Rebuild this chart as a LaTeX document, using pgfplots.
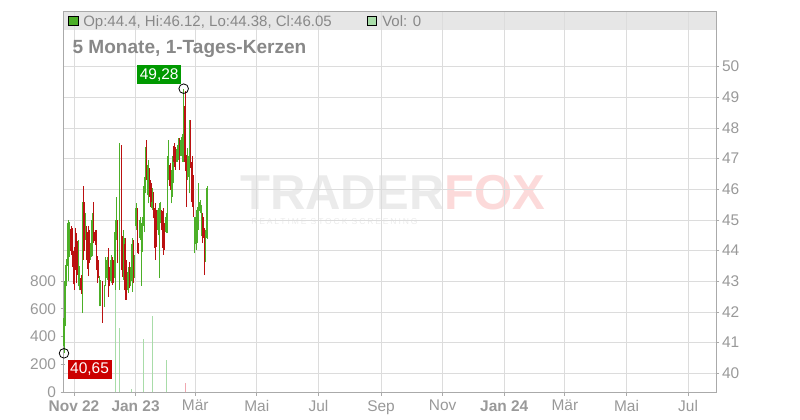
\documentclass[border=0pt]{standalone}
\usepackage{fontspec}
\setmainfont{Liberation Sans}
\usepackage{pgfplots}
\usepackage{pgfplotstable}
\pgfplotsset{compat=1.18}

\definecolor{cg}{HTML}{4CAF28}
\definecolor{cr}{HTML}{BB1111}
\definecolor{vg}{HTML}{A8DCA8}
\definecolor{vr}{HTML}{F0A8B0}
\definecolor{gridc}{HTML}{DCDCDC}
\definecolor{axc}{HTML}{AAAAAA}
\definecolor{tickc}{HTML}{999999}
\definecolor{hdrbg}{HTML}{E6E6E6}
\definecolor{hdrtx}{HTML}{888888}
\definecolor{boxg}{HTML}{009900}
\definecolor{boxr}{HTML}{CC0000}
\definecolor{wmg}{HTML}{EBEBEB}
\definecolor{wmp}{HTML}{FCDADA}

\newcommand{\fs}[1]{\fontsize{#1}{#1}\selectfont}

% day 0 = 1 Nov 2022; d o h l c
\pgfplotstableread{
d o h l c
-9.9 40.9 42.1 40.65 41.8
-8.9 42.1 43.54 41.53 43.0
-7.5 42.9 43.73 42.83 43.6
-5.9 43.5 45.0 43.0 44.9
-4.5 44.0 44.92 43.8 44.8
4.2 43.2 44.35 42.83 44.1
5.5 42.9 43.5 42.7 43.4
8.3 42.7 45.6 41.96 45.3
11.1 44.5 45.22 44.35 45.1
16.6 43.8 44.24 43.7 44.1
18.0 44.0 45.22 43.81 45.0
25.0 42.4 43.16 42.18 43.0
26.3 42.4 43.05 42.2 42.9
30.0 42.2 42.88 42.17 42.8
31.4 42.9 43.8 42.83 43.6
32.7 43.1 43.8 43.04 43.7
36.6 43.0 43.86 42.94 43.7
40.6 43.1 45.0 42.72 44.6
41.9 44.6 45.76 44.35 45.6
44.9 43.8 47.5 42.72 46.9
49.4 43.5 44.67 43.05 44.4
53.4 42.7 43.48 42.61 43.3
56.0 43.0 43.48 42.83 43.4
57.4 43.0 44.4 42.66 44.2
60.0 43.2 43.86 43.1 43.7
61.3 44.8 45.54 44.67 45.4
65.3 44.4 45.1 44.35 45.0
66.6 43.9 44.9 42.85 44.8
68.0 44.1 45.1 43.97 44.9
69.3 44.8 46.4 44.6 46.1
70.7 46.0 47.39 45.87 47.2
73.4 45.8 46.96 45.54 46.8
77.4 45.4 46.03 45.33 45.9
82.9 44.7 45.33 44.67 45.2
84.2 44.5 45.54 43.1 45.4
85.6 45.0 45.6 44.89 45.5
91.0 44.6 45.22 44.57 45.1
92.4 45.1 47.07 44.57 46.8
93.7 46.6 47.61 46.3 47.3
96.4 46.0 46.63 45.54 46.5
97.8 46.2 47.07 45.76 47.0
101.9 46.9 47.44 46.9 47.3
103.2 47.0 47.66 46.96 47.5
105.9 47.1 47.72 47.07 47.6
107.3 47.3 47.8 46.9 47.7
108.6 47.1 49.28 46.9 48.8
112.7 46.4 47.34 46.3 47.1
114.1 46.2 48.26 45.87 47.9
119.5 44.1 45.11 43.91 44.9
120.8 44.2 45.33 44.02 45.1
122.2 44.4 45.43 44.24 45.2
123.5 44.8 46.2 44.67 46.0
124.9 45.3 45.65 45.22 45.6
126.3 44.6 45.49 44.46 45.3
130.3 43.8 44.67 43.64 44.4
131.7 44.4 46.12 44.38 46.05
}\upcandles

\pgfplotstableread{
d o h l c
-3.0 44.7 44.8 43.86 44.0
-1.5 44.5 44.73 43.48 43.7
0.0 44.0 44.13 42.72 42.9
1.4 44.5 44.73 43.37 43.5
2.8 44.3 44.57 42.94 43.2
6.9 43.1 43.2 42.6 42.7
9.7 45.6 46.11 43.7 44.0
12.5 44.7 44.8 43.7 43.9
13.9 44.6 44.8 43.16 43.4
15.2 44.5 44.68 43.59 43.8
19.4 45.2 45.6 44.24 44.5
20.8 44.6 44.68 44.19 44.3
22.2 44.4 44.68 43.37 43.6
23.6 43.7 43.81 42.94 43.1
28.0 42.8 43.0 41.65 42.0
34.0 43.9 44.08 42.5 42.8
35.3 43.4 43.48 42.83 43.0
37.9 43.7 43.8 42.88 43.0
39.3 43.6 43.7 42.94 43.1
43.3 44.9 45.0 43.59 43.8
46.8 46.8 47.45 43.37 43.8
48.1 44.3 44.46 43.15 43.5
50.7 44.2 44.4 42.39 42.7
52.1 43.5 43.7 42.39 42.6
54.7 43.5 43.64 42.77 43.0
58.7 44.2 44.35 42.94 43.2
62.7 45.2 45.38 43.91 44.2
64.0 44.2 44.24 43.9 44.0
72.0 47.4 47.61 46.3 46.5
74.7 46.6 46.68 45.76 45.9
76.1 46.2 46.3 45.43 45.6
78.8 45.8 45.92 45.05 45.2
80.2 45.4 45.54 43.7 44.1
81.5 45.2 45.33 44.13 44.4
86.9 45.2 45.33 44.67 44.8
88.3 45.3 45.38 43.86 44.1
89.7 44.8 44.89 44.02 44.2
95.1 46.8 46.85 45.98 46.1
99.1 47.4 47.5 46.74 46.9
100.5 47.3 47.39 46.63 46.8
104.6 47.5 47.66 46.63 46.8
110.0 48.7 49.2 46.6 46.9
111.4 46.9 47.12 45.43 45.8
115.4 47.9 48.26 46.7 46.9
116.8 46.9 47.07 45.43 45.6
118.1 46.3 46.47 45.1 45.3
127.6 45.1 45.22 44.24 44.4
129.0 44.6 44.73 43.2 43.5
}\downcandles

\pgfplotsset{
  frame/.style={at={(47.25pt,20.8pt)}, anchor=south west, scale only axis,
    width=489.75pt, height=286pt, xmin=-10.89, xmax=635.6},
  wick/.style={draw=none, mark=none, forget plot,
    error bars/.cd, y dir=plus, y explicit, error mark=none,
    error bar style={draw=#1, line width=0.6pt}},
  body/.style={draw=none, mark=none, forget plot,
    error bars/.cd, y dir=plus, y explicit, error mark=none,
    error bar style={draw=#1, line width=1.1pt}},
}

\begin{document}
\begin{tikzpicture}
\path[use as bounding box] (0,0) rectangle (600pt,315pt);

% header bar and watermark, in pixel units from the top left
\begin{scope}[x=0.75pt, y=-0.75pt, yshift=315pt]
  \fill[hdrbg] (63,11) rectangle (716,30);
  \node[anchor=base west, inner sep=0pt, text depth=0pt, text=wmg, font=\fs{36.75}\bfseries]
    at (240,210) {TRADER\textcolor{wmp}{FOX}};
  \node[anchor=base west, inner sep=0pt, text height=4.5pt, text depth=0pt, text=wmg,
    font=\fs{6.4}\addfontfeature{LetterSpace=22}]
    at (251,225) {REALTIME STOCK SCREENING};
\end{scope}

% grid, frame, price axis and dates
\begin{axis}[frame, ymin=39.38, ymax=51.816,
  xtick={0,61,120,181,242,304,365,426,486,547,608},
  xticklabels={\textbf{Nov 22},\textbf{Jan 23},Mär,Mai,Jul,Sep,Nov,\textbf{Jan 24},Mär,Mai,Jul},
  ytick={40,41,...,50},
  xtick pos=left, ytick pos=right, yticklabel pos=right,
  tick align=outside, major tick length=2.5pt,
  grid=major, grid style={draw=gridc, line width=0.6pt},
  axis line style={draw=axc, line width=0.6pt},
  tick style={draw=axc, line width=0.6pt},
  ticklabel style={text=tickc, font=\fs{11.6}},
  yticklabel style={xshift=-1.5pt},
  /pgf/number format/assume math mode=true]
\end{axis}

% volume
\begin{axis}[frame, ymin=0, ymax=2740.6,
  axis x line=none, axis y line*=left,
  ytick={0,200,400,600,800},
  tick align=center, major tick length=3.4pt,
  axis line style={draw=axc, line width=0.6pt},
  tick style={draw=axc, line width=0.6pt},
  ticklabel style={text=tickc, font=\fs{11.6}},
  /pgf/number format/assume math mode=true]
\addplot[ycomb, draw=vg, line width=0.8pt]
  coordinates {(40.9,748) (44.9,460) (56.7,24) (68.6,381) (77.5,549) (91.4,232)};
\addplot[ycomb, draw=vr, line width=0.8pt] coordinates {(110.2,67)};
\end{axis}

% candles
\begin{axis}[frame, ymin=39.38, ymax=51.816, hide axis, clip=false]
\addplot[wick=cg] table[x=d, y=l, y error expr=\thisrow{h}-\thisrow{l}] {\upcandles};
\addplot[body=cg] table[x=d, y=o, y error expr=\thisrow{c}-\thisrow{o}] {\upcandles};
\addplot[wick=cr] table[x=d, y=l, y error expr=\thisrow{h}-\thisrow{l}] {\downcandles};
\addplot[body=cr] table[x=d, y=c, y error expr=\thisrow{o}-\thisrow{c}] {\downcandles};
\addplot[only marks, mark=o, mark size=3.6pt, mark options={draw=black, line width=0.6pt}]
  coordinates {(108.6,49.28) (-9.9,40.65)};
\node[fill=boxg, text=white, font=\fs{11.6}, inner sep=0pt, minimum width=33pt,
  minimum height=14.25pt, anchor=south east, xshift=-1.7pt, yshift=3.2pt]
  at (axis cs:108.6,49.28) {49,28};
\node[fill=boxr, text=white, font=\fs{11.6}, inner sep=0pt, minimum width=33pt,
  minimum height=14pt, anchor=north west, xshift=2.5pt, yshift=-4.7pt]
  at (axis cs:-9.9,40.65) {40,65};
\end{axis}

% header texts and title
\begin{scope}[x=0.75pt, y=-0.75pt, yshift=315pt]
  \draw[black, line width=0.6pt, fill=cg] (68.5,16) rectangle (78,25.5);
  \node[anchor=base west, inner sep=0pt, text=hdrtx, font=\fs{11.25}]
    at (83,26.3) {Op:44.4, Hi:46.12, Lo:44.38, Cl:46.05};
  \draw[black, line width=0.6pt, fill=vg] (367,16) rectangle (376.5,25.5);
  \node[anchor=base west, inner sep=0pt, text=hdrtx, font=\fs{11.25}]
    at (382,26.3) {Vol: 0};
  \node[anchor=base west, inner sep=0pt, text=hdrtx, font=\fs{14.3}\bfseries]
    at (72.3,54) {5 Monate, 1-Tages-Kerzen};
\end{scope}
\end{tikzpicture}
\end{document}
